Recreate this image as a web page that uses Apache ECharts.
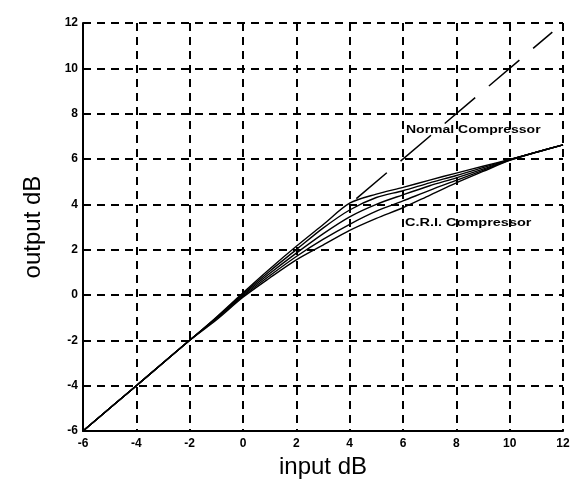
<!DOCTYPE html>
<html>
<head>
<meta charset="utf-8">
<script src="https://cdn.jsdelivr.net/npm/echarts@6/dist/echarts.min.js"></script>
<style>
  html, body { margin: 0; padding: 0; background: #fff; }
  #chart { width: 575px; height: 484px; }
</style>
</head>
<body>
<div id="chart"></div>
<script>
// input levels (dB) shared by the C.R.I. curves
const inputDb = [-6, -4, -2, -1, 0, 1, 2, 3, 4, 5, 6, 7, 8, 9, 10, 11, 12]

// five C.R.I. compressor curves, top to bottom
const criCurves = [
    [-6, -4, -2, -0.98, 0.1, 1.15, 2.15, 3.1, 4.05, 4.45, 4.75, 5.07, 5.38, 5.68, 5.98, 6.3, 6.62],
    [-6, -4, -2, -1, 0.05, 1.05, 2.0, 2.95, 3.75, 4.3, 4.6, 4.95, 5.27, 5.62, 5.97, 6.3, 6.62],
    [-6, -4, -2, -1.02, 0, 0.95, 1.85, 2.7, 3.45, 4.0, 4.42, 4.82, 5.17, 5.55, 5.96, 6.3, 6.62],
    [-6, -4, -2, -1.05, -0.05, 0.85, 1.7, 2.45, 3.12, 3.7, 4.15, 4.62, 5.06, 5.5, 5.95, 6.3, 6.62],
    [-6, -4, -2, -1.1, -0.1, 0.75, 1.55, 2.2, 2.85, 3.38, 3.85, 4.4, 4.95, 5.45, 5.94, 6.3, 6.62]
]

// normal compressor (dashed part above the knee)
const normalIn = [4.25, 11.6]
const normalOut = [4.25, 11.6]

const ticks = [-6, -4, -2, 0, 2, 4, 6, 8, 10, 12]

const chart = echarts.init(document.getElementById('chart'))

const axisCommon = {
    type: 'value',
    min: ticks[0],
    max: ticks[ticks.length - 1],
    interval: 2,
    nameLocation: 'middle',
    nameTextStyle: { fontFamily: 'Liberation Sans, Arial', fontSize: 24, color: '#000' },
    axisLine: { show: true, onZero: false, lineStyle: { color: '#000', width: 2 } },
    axisTick: { show: false },
    axisLabel: { fontFamily: 'Liberation Sans, Arial', fontSize: 12, fontWeight: 'bold', color: '#000' },
    splitLine: { show: true, lineStyle: { color: '#000', width: 2, type: [8, 6] } }
}

const series = criCurves.map(vals => ({
    type: 'line',
    data: inputDb.map((x, i) => [x, vals[i]]),
    smooth: 0.3,
    showSymbol: false,
    lineStyle: { color: '#000', width: 1.4 },
    silent: true
}))

series.push({
    type: 'line',
    data: normalIn.map((x, i) => [x, normalOut[i]]),
    showSymbol: false,
    lineStyle: { color: '#000', width: 1.5, type: [40, 18] },
    silent: true
})

chart.setOption({
    animation: false,
    grid: { left: 83, right: 12, top: 23, bottom: 52 },
    xAxis: Object.assign({}, axisCommon, {
        name: 'input dB',
        nameGap: 24,
        axisLabel: Object.assign({}, axisCommon.axisLabel, { margin: 7 })
    }),
    yAxis: Object.assign({}, axisCommon, {
        name: 'output dB',
        nameGap: 38,
        axisLabel: Object.assign({}, axisCommon.axisLabel, { margin: 5 })
    }),
    series: series,
    graphic: [
        {
            type: 'text', x: 406, y: 130, scaleX: 1.4,
            style: { text: 'Normal Compressor', font: 'bold 10px "Liberation Sans", Arial', fill: '#000', verticalAlign: 'middle' }
        },
        {
            type: 'text', x: 405, y: 223, scaleX: 1.45,
            style: { text: 'C.R.I. Compressor', font: 'bold 10px "Liberation Sans", Arial', fill: '#000', verticalAlign: 'middle' }
        }
    ]
})
</script>
</body>
</html>
